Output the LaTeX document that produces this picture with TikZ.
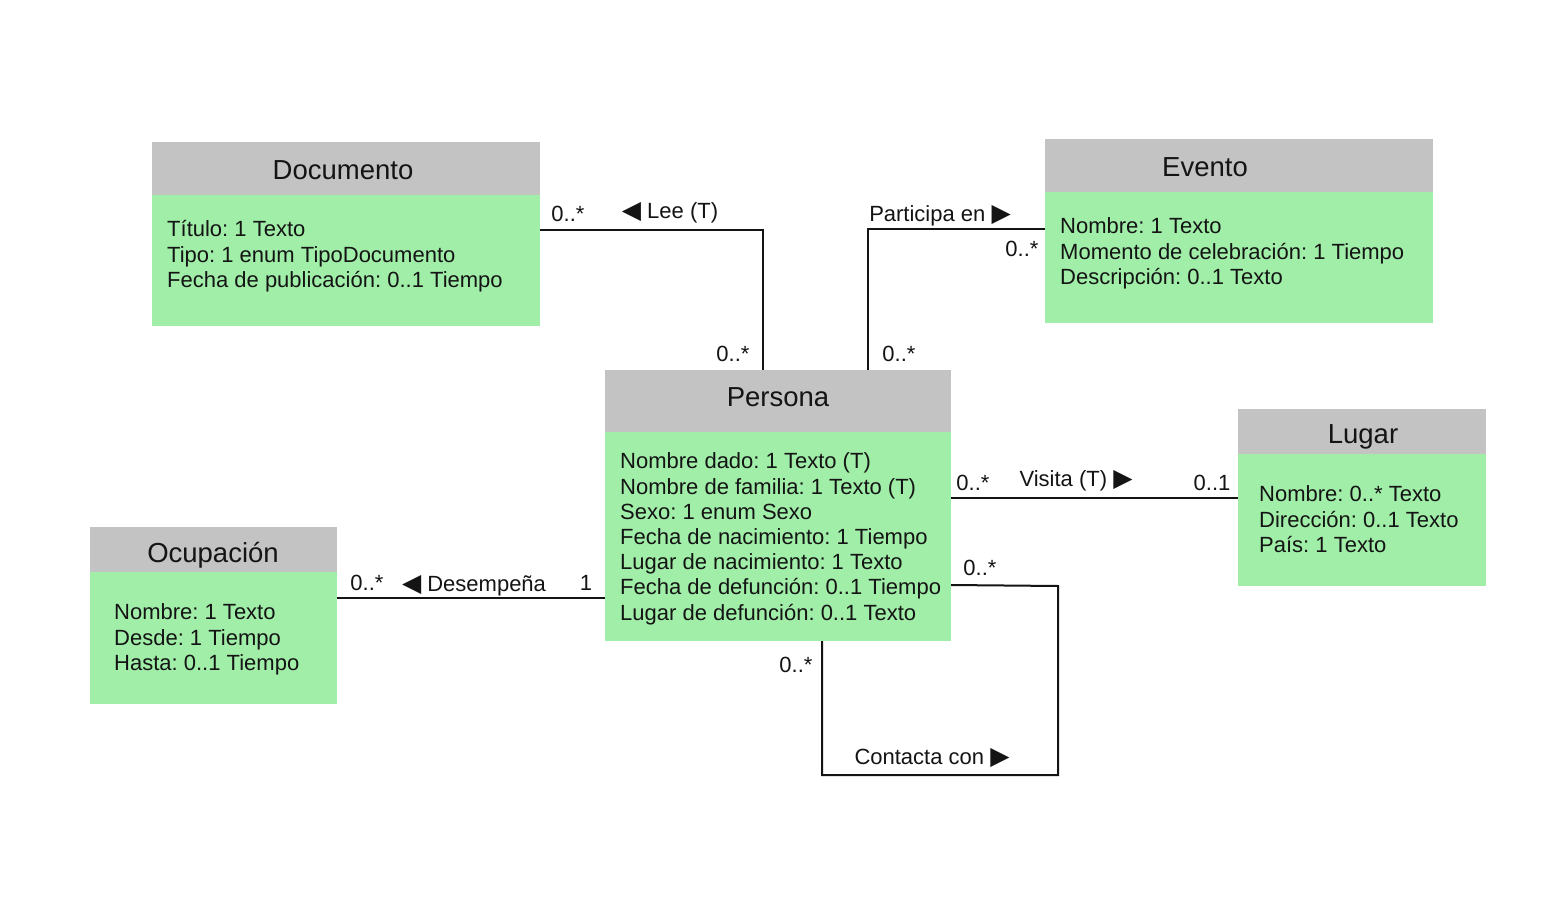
\documentclass[tikz,border=0pt]{standalone}
\usepackage{fontspec}
\setmainfont{Liberation Sans}
\newfontfamily\symfont{DejaVu Sans}
\definecolor{hdr}{RGB}{195,195,195}
\definecolor{bdy}{RGB}{160,238,168}
\definecolor{ink}{RGB}{20,20,20}
\newcommand\rtri{{\symfont\fontsize{25}{25}\selectfont ▶}}
\newcommand\ltri{{\symfont\fontsize{25}{25}\selectfont ◀}}
\frenchspacing
\tikzset{
  hdrbox/.style={fill=hdr, draw=none, anchor=north west, inner sep=0pt, outer sep=0pt},
  bdybox/.style={fill=bdy, draw=none, anchor=north west, inner sep=0pt, outer sep=0pt},
  titletext/.style={font=\fontsize{27.5}{30}\selectfont, text height=19.7pt, text depth=0pt, inner sep=0pt, text=ink},
  attrs/.style={font=\fontsize{22}{25.2}\selectfont\frenchspacing, align=left, anchor=north west, inner sep=0pt, text=ink},
  lbl/.style={font=\fontsize{22}{25}\selectfont\frenchspacing, text height=15.75pt, text depth=0pt, inner sep=0pt, text=ink},
  conn/.style={draw=ink, line width=2pt},
}
\begin{document}
\begin{tikzpicture}[x=1pt,y=-1pt]
\useasboundingbox[fill=white] (0,0) rectangle (1551,897);

% Documento
\node[hdrbox, minimum width=388pt, minimum height=53pt] (doch) at (152,142) {};
\node[bdybox, minimum width=388pt, minimum height=131pt] (docb) at (doch.south west) {};
\node[titletext] (doct) at (343,170) {Documento};
\node[attrs] (doca) at (167,219) {\strut Título: 1 Texto\\\strut Tipo: 1 enum TipoDocumento\\\strut Fecha de publicación: 0..1 Tiempo};

% Evento
\node[hdrbox, minimum width=388pt, minimum height=53pt] (evh) at (1045,139) {};
\node[bdybox, minimum width=388pt, minimum height=131pt] (evb) at (evh.south west) {};
\node[titletext] (evt) at (1205,167) {Evento};
\node[attrs] (eva) at (1060,216) {\strut Nombre: 1 Texto\\\strut Momento de celebración: 1 Tiempo\\\strut Descripción: 0..1 Texto};

% Persona
\node[hdrbox, minimum width=346pt, minimum height=62pt] (pmh) at (605,370) {};
\node[bdybox, minimum width=346pt, minimum height=209pt] (pmb) at (pmh.south west) {};
\node[titletext] (pmt) at (778,397) {Persona};
\node[attrs] (pma) at (620,451) {\strut Nombre dado: 1 Texto (T)\\\strut Nombre de familia: 1 Texto (T)\\\strut Sexo: 1 enum Sexo\\\strut Fecha de nacimiento: 1 Tiempo\\\strut Lugar de nacimiento: 1 Texto\\\strut Fecha de defunción: 0..1 Tiempo\\\strut Lugar de defunción: 0..1 Texto};

% Lugar
\node[hdrbox, minimum width=248pt, minimum height=45pt] (luh) at (1238,409) {};
\node[bdybox, minimum width=248pt, minimum height=132pt] (lub) at (luh.south west) {};
\node[titletext] (lut) at (1363,434) {Lugar};
\node[attrs] (lua) at (1259,484) {\strut Nombre: 0..* Texto\\\strut Dirección: 0..1 Texto\\\strut País: 1 Texto};

% Ocupacion
\node[hdrbox, minimum width=247pt, minimum height=45pt] (och) at (90,527) {};
\node[bdybox, minimum width=247pt, minimum height=132pt] (ocb) at (och.south west) {};
\node[titletext] (oct) at (213,553) {Ocupación};
\node[attrs] (oca) at (114,602) {\strut Nombre: 1 Texto\\\strut Desde: 1 Tiempo\\\strut Hasta: 0..1 Tiempo};

% Connectors
\draw[conn] (docb.east |- 0,230) -- (763,230) -- (pmh.north -| 763,0);
\draw[conn] (pmh.north -| 868,0) -- (868,229) -- (evb.west |- 0,229);
\draw[conn] (pmb.east |- 0,498) -- (lub.west |- 0,498);
\draw[conn] (ocb.east |- 0,598) -- (pmb.west |- 0,598);
\draw[conn] (pmb.east |- 0,585) -- (1058,586) -- (1058,775) -- (822,775) -- (pmb.south -| 822,0);

% Labels
\node[lbl] (l1) at (568,214) {0..*};
\node[lbl] (l2) at (670,211) {\ltri\ Lee (T)};
\node[lbl] (l3) at (733,354) {0..*};
\node[lbl] (l4) at (940,214) {Participa en \rtri};
\node[lbl] (l5) at (1022,249) {0..*};
\node[lbl] (l6) at (899,354) {0..*};
\node[lbl] (l7) at (973,483) {0..*};
\node[lbl] (l8) at (1076,479) {Visita (T) \rtri};
\node[lbl] (l9) at (1212,483) {0..1};
\node[lbl] (l10) at (367,583) {0..*};
\node[lbl] (l11) at (474,584) {\ltri\ Desempeña};
\node[lbl] (l12) at (586,583) {1};
\node[lbl] (l13) at (980,568) {0..*};
\node[lbl] (l14) at (796,665) {0..*};
\node[lbl] (l15) at (932,757) {Contacta con \rtri};
\end{tikzpicture}
\end{document}
